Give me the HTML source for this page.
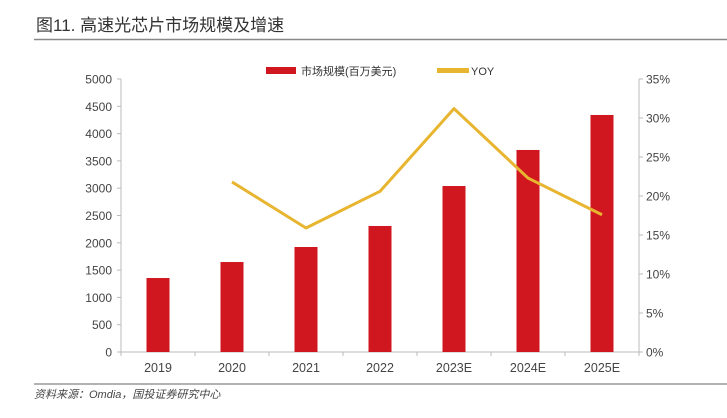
<!DOCTYPE html>
<html><head><meta charset="utf-8"><style>
body{margin:0;background:#fff;width:727px;height:413px;overflow:hidden;font-family:"Liberation Sans","Noto Sans CJK SC",sans-serif}
</style></head><body>
<svg width="727" height="413" xmlns="http://www.w3.org/2000/svg">
<text x="36" y="31" font-size="17" fill="#333" font-family="Liberation Sans,Noto Sans CJK SC,sans-serif">图11. 高速光芯片市场规模及增速</text>
<line x1="34" y1="39.5" x2="727" y2="39.5" stroke="#888" stroke-width="1.5"/>
<g>
<rect x="266" y="67" width="30" height="7" fill="#d0161e"/>
<text x="301" y="75" font-size="11" fill="#333">市场规模(百万美元)</text>
<rect x="437" y="68" width="32" height="5" fill="#e8b530"/>
<text x="471" y="75" font-size="11" fill="#333">YOY</text>
</g>
<g id="axes"></g>
<g id="bars"></g>
<g id="line"></g>
<line x1="34" y1="384" x2="727" y2="384" stroke="#999" stroke-width="1.5"/>
<text x="34" y="398" font-size="11" font-style="italic" fill="#444">资料来源：Omdia，国投证券研究中心</text>
</svg>
<script>
const categories=["2019","2020","2021","2022","2023E","2024E","2025E"];
const marketValues=[1355,1648,1923,2308,3040,3700,4341];
const yoyValues=[null,21.8,15.9,20.6,31.2,22.3,17.6];
const leftTicks=[0,500,1000,1500,2000,2500,3000,3500,4000,4500,5000];
const rightTicks=[0,5,10,15,20,25,30,35];
const NS="http://www.w3.org/2000/svg";
const X0=121,X1=639,Y0=352,Y1=79;
const bw=(X1-X0)/categories.length;
const xC=i=>X0+bw*(i+0.5);
const yL=v=>Y0-(v/5000)*(Y0-Y1);
const yR=v=>Y0-(v/35)*(Y0-Y1);
function mk(tag,attrs,parent){const e=document.createElementNS(NS,tag);for(const k in attrs)e.setAttribute(k,attrs[k]);parent.appendChild(e);return e;}
const axes=document.getElementById('axes');
let a=mk('line',{x1:X0,y1:Y1,x2:X0,y2:Y0,stroke:'#bbb'},axes);


a=mk('line',{x1:X1,y1:Y1,x2:X1,y2:Y0,stroke:'#bbb'},axes);


a=mk('line',{x1:X0-4,y1:Y0,x2:X1+4,y2:Y0,stroke:'#bbb'},axes);


leftTicks.forEach(v=>{const y=yL(v);
mk('line',{x1:X0-4,y1:y,x2:X0,y2:y,stroke:'#bbb'},axes);
const t=mk('text',{x:X0-9,y:y+4.5,'font-size':12,fill:'#444','text-anchor':'end'},axes);t.textContent=v;

});
rightTicks.forEach(v=>{const y=yR(v);
mk('line',{x1:X1,y1:y,x2:X1+4,y2:y,stroke:'#bbb'},axes);
const t=mk('text',{x:X1+7,y:y+4.5,'font-size':12,fill:'#444'},axes);t.textContent=v+'%';

});
for(let i=0;i<=categories.length;i++){mk('line',{x1:X0+bw*i,y1:Y0,x2:X0+bw*i,y2:Y0+4,stroke:'#bbb'},axes);}
const bars=document.getElementById('bars');
categories.forEach((c,i)=>{
const r=mk('rect',{x:xC(i)-11.5,y:yL(marketValues[i]),width:23,height:Y0-yL(marketValues[i]),fill:'#d0161e'},bars);


const t=mk('text',{x:xC(i),y:Y0+20,'font-size':12.5,fill:'#444','text-anchor':'middle'},axes);t.textContent=c;

});
const pts=[];yoyValues.forEach((v,i)=>{if(v!==null)pts.push(xC(i)+','+yR(v));});
const pl=mk('polyline',{points:pts.join(' '),fill:'none',stroke:'#e8b530','stroke-width':3,'stroke-linejoin':'round'},document.getElementById('line'));


</script>
</body></html>
